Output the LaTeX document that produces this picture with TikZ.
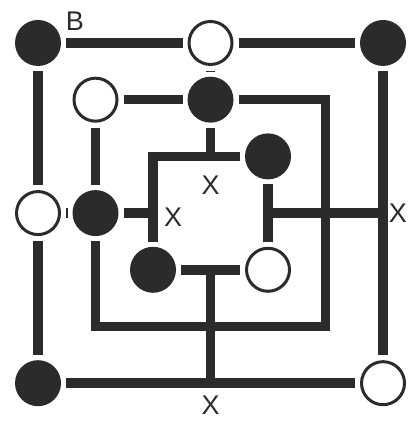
\documentclass[tikz,border=0pt]{standalone}
\usepackage{fontspec}
\setmainfont{Liberation Sans}
\definecolor{ink}{HTML}{2B2B2B}

\begin{document}
\begin{tikzpicture}[x=57.5pt, y=-56.7pt,
  bar/.style={draw=ink, line width=9.5pt},
  blk/.style={circle, fill=ink, minimum size=46pt, inner sep=0pt, outer sep=5pt},
  wht/.style={circle, draw=ink, fill=white, line width=3pt, minimum size=43pt, inner sep=0pt, outer sep=6.5pt},
  lbl/.style={font=\fontsize{27}{29}\selectfont, text=ink, inner sep=0pt}]
  \useasboundingbox (-0.661,-0.758) rectangle (6.435,6.667);
  % pieces on the board
  \node[blk] (p00) at (0,0) {};
  \node[wht] (p30) at (3,0) {};
  \node[blk] (p60) at (6,0) {};
  \node[wht] (p11) at (1,1) {};
  \node[blk] (p31) at (3,1) {};
  \node[blk] (p42) at (4,2) {};
  \node[wht] (p03) at (0,3) {};
  \node[blk] (p13) at (1,3) {};
  \node[blk] (p24) at (2,4) {};
  \node[wht] (p44) at (4,4) {};
  \node[blk] (p06) at (0,6) {};
  \node[wht] (p66) at (6,6) {};
  % corners and junctions
  \coordinate (c22) at (2,2);
  \coordinate (c32) at (3,2);
  \coordinate (c23) at (2,3);
  \coordinate (c43) at (4,3);
  \coordinate (c63) at (6,3);
  \coordinate (c51) at (5,1);
  \coordinate (c55) at (5,5);
  \coordinate (c15) at (1,5);
  \coordinate (c34) at (3,4);
  \coordinate (c36) at (3,6);
  % lines between pieces
  \foreach \a/\b in {p00/p30, p30/p60, p00/p03, p03/p06, p06/p66, p60/p66,
                     p11/p31, p11/p13, p30/p31, p03/p13, p42/p44, p24/p44}
    { \draw[bar] (\a) -- (\b); }
  \draw[bar] (p31) -- (c51) -- (c55) -- (c15) -- (p13);
  \draw[bar] (p42) -- (c22) -- (p24);
  \draw[bar] (p31) -- (c32);
  \draw[bar] (p13) -- (c23);
  \draw[bar] (c43) -- (c63);
  \draw[bar] (c34) -- (c36);
  % labels
  \node[lbl] (labB) at (0.64,-0.39) {B};
  \node[lbl] (x1) at (3,2.5) {X};
  \node[lbl] (x2) at (2.35,3.07) {X};
  \node[lbl] (x3) at (6.26,3.0) {X};
  \node[lbl] (x4) at (3,6.39) {X};
\end{tikzpicture}
\end{document}
